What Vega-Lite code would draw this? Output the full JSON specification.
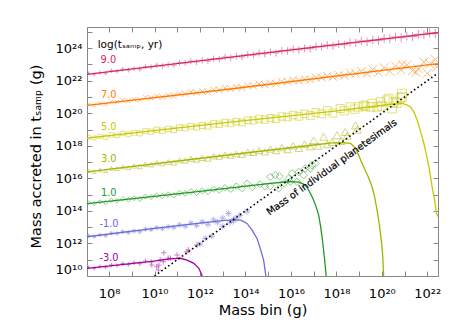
{
  "$schema": "https://vega.github.io/schema/vega-lite/v6.json",
  "width": 351,
  "height": 249,
  "autosize": "none",
  "padding": {"left": 87, "top": 27, "right": 27, "bottom": 56},
  "background": "#ffffff",
  "config": {
    "view": {"stroke": "#888888", "strokeWidth": 1},
    "font": "DejaVu Sans",
    "axis": {
      "grid": false,
      "domainColor": "#888888",
      "tickColor": "#888888",
      "tickSize": -5,
      "labelFont": "DejaVu Sans",
      "labelFontSize": 13,
      "labelColor": "#000000",
      "titleFont": "DejaVu Sans",
      "titleFontSize": 14.5,
      "titleFontWeight": "normal",
      "titleColor": "#000000"
    }
  },
  "datasets": {
    "diag": [
      {"m": 10.0, "M": 10.0},
      {"m": 22.47, "M": 22.47}
    ],
    "curves": [
      {"s": "9.0", "m": 7.03, "M": 22.39}, {"s": "9.0", "m": 15.0, "M": 23.72}, {"s": "9.0", "m": 22.47, "M": 24.95},
      {"s": "7.0", "m": 7.03, "M": 20.49}, {"s": "7.0", "m": 13.33, "M": 21.49}, {"s": "7.0", "m": 22.47, "M": 23.05},
      {"s": "5.0", "m": 7.03, "M": 18.47}, {"s": "5.0", "m": 13.33, "M": 19.45}, {"s": "5.0", "m": 17.73, "M": 20.1}, {"s": "5.0", "m": 19.5, "M": 20.4}, {"s": "5.0", "m": 20.4, "M": 20.55}, {"s": "5.0", "m": 20.89, "M": 20.6}, {"s": "5.0", "m": 21.1, "M": 20.52}, {"s": "5.0", "m": 21.26, "M": 20.39}, {"s": "5.0", "m": 21.4, "M": 20.1}, {"s": "5.0", "m": 21.55, "M": 19.6}, {"s": "5.0", "m": 21.7, "M": 18.9}, {"s": "5.0", "m": 21.85, "M": 18.14}, {"s": "5.0", "m": 21.97, "M": 17.4}, {"s": "5.0", "m": 22.07, "M": 16.7}, {"s": "5.0", "m": 22.15, "M": 16.05}, {"s": "5.0", "m": 22.21, "M": 15.48}, {"s": "5.0", "m": 22.32, "M": 14.66}, {"s": "5.0", "m": 22.4, "M": 13.85}, {"s": "5.0", "m": 22.47, "M": 13.66},
      {"s": "3.0", "m": 7.03, "M": 16.4}, {"s": "3.0", "m": 13.33, "M": 17.45}, {"s": "3.0", "m": 17.0, "M": 18.05}, {"s": "3.0", "m": 17.8, "M": 18.18}, {"s": "3.0", "m": 18.3, "M": 18.2}, {"s": "3.0", "m": 18.62, "M": 18.15}, {"s": "3.0", "m": 18.84, "M": 17.85}, {"s": "3.0", "m": 19.0, "M": 17.35}, {"s": "3.0", "m": 19.2, "M": 16.7}, {"s": "3.0", "m": 19.4, "M": 16.1}, {"s": "3.0", "m": 19.57, "M": 15.48}, {"s": "3.0", "m": 19.69, "M": 14.8}, {"s": "3.0", "m": 19.79, "M": 14.05}, {"s": "3.0", "m": 19.87, "M": 13.35}, {"s": "3.0", "m": 19.94, "M": 12.62}, {"s": "3.0", "m": 20.0, "M": 11.9}, {"s": "3.0", "m": 20.04, "M": 11.18}, {"s": "3.0", "m": 20.08, "M": 10.0},
      {"s": "1.0", "m": 7.03, "M": 14.45}, {"s": "1.0", "m": 12.0, "M": 15.2}, {"s": "1.0", "m": 15.0, "M": 15.68}, {"s": "1.0", "m": 15.6, "M": 15.76}, {"s": "1.0", "m": 16.0, "M": 15.8}, {"s": "1.0", "m": 16.35, "M": 15.77}, {"s": "1.0", "m": 16.55, "M": 15.65}, {"s": "1.0", "m": 16.71, "M": 15.45}, {"s": "1.0", "m": 16.85, "M": 15.1}, {"s": "1.0", "m": 17.0, "M": 14.66}, {"s": "1.0", "m": 17.12, "M": 14.2}, {"s": "1.0", "m": 17.22, "M": 13.74}, {"s": "1.0", "m": 17.3, "M": 13.1}, {"s": "1.0", "m": 17.37, "M": 12.41}, {"s": "1.0", "m": 17.47, "M": 11.18}, {"s": "1.0", "m": 17.55, "M": 10.0},
      {"s": "-1.0", "m": 7.03, "M": 12.41}, {"s": "-1.0", "m": 10.0, "M": 12.93}, {"s": "-1.0", "m": 12.0, "M": 13.25}, {"s": "-1.0", "m": 13.0, "M": 13.4}, {"s": "-1.0", "m": 13.5, "M": 13.45}, {"s": "-1.0", "m": 13.8, "M": 13.43}, {"s": "-1.0", "m": 14.07, "M": 13.23}, {"s": "-1.0", "m": 14.29, "M": 12.82}, {"s": "-1.0", "m": 14.51, "M": 12.31}, {"s": "-1.0", "m": 14.65, "M": 11.7}, {"s": "-1.0", "m": 14.8, "M": 10.98}, {"s": "-1.0", "m": 14.9, "M": 10.0},
      {"s": "-3.0", "m": 7.03, "M": 10.47}, {"s": "-3.0", "m": 9.97, "M": 10.92}, {"s": "-3.0", "m": 10.7, "M": 11.05}, {"s": "-3.0", "m": 11.14, "M": 11.09}, {"s": "-3.0", "m": 11.43, "M": 10.98}, {"s": "-3.0", "m": 11.73, "M": 10.78}, {"s": "-3.0", "m": 11.95, "M": 10.47}, {"s": "-3.0", "m": 12.1, "M": 10.0}
    ],
    "pts": [
      {"s": "9.0", "m": 7.1, "M": 22.45}, {"s": "9.0", "m": 7.35, "M": 22.4}, {"s": "9.0", "m": 7.6, "M": 22.5}, {"s": "9.0", "m": 7.85, "M": 22.46}, {"s": "9.0", "m": 8.1, "M": 22.61}, {"s": "9.0", "m": 8.35, "M": 22.59}, {"s": "9.0", "m": 8.6, "M": 22.7}, {"s": "9.0", "m": 8.85, "M": 22.65}, {"s": "9.0", "m": 9.1, "M": 22.75}, {"s": "9.0", "m": 9.35, "M": 22.71}, {"s": "9.0", "m": 9.6, "M": 22.86}, {"s": "9.0", "m": 9.85, "M": 22.84}, {"s": "9.0", "m": 10.1, "M": 22.95}, {"s": "9.0", "m": 10.35, "M": 22.9}, {"s": "9.0", "m": 10.6, "M": 23.0}, {"s": "9.0", "m": 10.85, "M": 22.96}, {"s": "9.0", "m": 11.1, "M": 23.1}, {"s": "9.0", "m": 11.35, "M": 23.09}, {"s": "9.0", "m": 11.6, "M": 23.2}, {"s": "9.0", "m": 11.85, "M": 23.15}, {"s": "9.0", "m": 12.1, "M": 23.25}, {"s": "9.0", "m": 12.35, "M": 23.21}, {"s": "9.0", "m": 12.6, "M": 23.35}, {"s": "9.0", "m": 12.85, "M": 23.33}, {"s": "9.0", "m": 13.1, "M": 23.45}, {"s": "9.0", "m": 13.35, "M": 23.4}, {"s": "9.0", "m": 13.6, "M": 23.5}, {"s": "9.0", "m": 13.85, "M": 23.46}, {"s": "9.0", "m": 14.1, "M": 23.6}, {"s": "9.0", "m": 14.35, "M": 23.58}, {"s": "9.0", "m": 14.6, "M": 23.7}, {"s": "9.0", "m": 14.85, "M": 23.65}, {"s": "9.0", "m": 15.1, "M": 23.75}, {"s": "9.0", "m": 15.35, "M": 23.71}, {"s": "9.0", "m": 15.6, "M": 23.85}, {"s": "9.0", "m": 15.85, "M": 23.83}, {"s": "9.0", "m": 16.1, "M": 23.94}, {"s": "9.0", "m": 16.35, "M": 23.9}, {"s": "9.0", "m": 16.6, "M": 24.0}, {"s": "9.0", "m": 16.85, "M": 23.96}, {"s": "9.0", "m": 17.1, "M": 24.1}, {"s": "9.0", "m": 17.35, "M": 24.08}, {"s": "9.0", "m": 17.6, "M": 24.19}, {"s": "9.0", "m": 17.85, "M": 24.14}, {"s": "9.0", "m": 18.1, "M": 24.25}, {"s": "9.0", "m": 18.35, "M": 24.21}, {"s": "9.0", "m": 18.6, "M": 24.35}, {"s": "9.0", "m": 18.85, "M": 24.33}, {"s": "9.0", "m": 19.1, "M": 24.44}, {"s": "9.0", "m": 19.35, "M": 24.39}, {"s": "9.0", "m": 19.6, "M": 24.5}, {"s": "9.0", "m": 19.85, "M": 24.46}, {"s": "9.0", "m": 20.1, "M": 24.6}, {"s": "9.0", "m": 20.35, "M": 24.58}, {"s": "9.0", "m": 20.6, "M": 24.69}, {"s": "9.0", "m": 20.85, "M": 24.64}, {"s": "9.0", "m": 21.1, "M": 24.74}, {"s": "9.0", "m": 21.35, "M": 24.71}, {"s": "9.0", "m": 21.6, "M": 24.85}, {"s": "9.0", "m": 21.85, "M": 24.83}, {"s": "9.0", "m": 22.1, "M": 24.94}, {"s": "9.0", "m": 22.35, "M": 24.89},
      {"s": "7.0", "m": 7.1, "M": 20.55}, {"s": "7.0", "m": 7.35, "M": 20.5}, {"s": "7.0", "m": 7.6, "M": 20.6}, {"s": "7.0", "m": 7.85, "M": 20.56}, {"s": "7.0", "m": 8.1, "M": 20.71}, {"s": "7.0", "m": 8.35, "M": 20.69}, {"s": "7.0", "m": 8.6, "M": 20.8}, {"s": "7.0", "m": 8.85, "M": 20.75}, {"s": "7.0", "m": 9.1, "M": 20.85}, {"s": "7.0", "m": 9.35, "M": 20.81}, {"s": "7.0", "m": 9.6, "M": 20.96}, {"s": "7.0", "m": 9.85, "M": 20.94}, {"s": "7.0", "m": 10.1, "M": 21.05}, {"s": "7.0", "m": 10.35, "M": 21.0}, {"s": "7.0", "m": 10.6, "M": 21.1}, {"s": "7.0", "m": 10.85, "M": 21.06}, {"s": "7.0", "m": 11.1, "M": 21.2}, {"s": "7.0", "m": 11.35, "M": 21.19}, {"s": "7.0", "m": 11.6, "M": 21.3}, {"s": "7.0", "m": 11.85, "M": 21.25}, {"s": "7.0", "m": 12.1, "M": 21.35}, {"s": "7.0", "m": 12.35, "M": 21.31}, {"s": "7.0", "m": 12.6, "M": 21.45}, {"s": "7.0", "m": 12.85, "M": 21.43}, {"s": "7.0", "m": 13.1, "M": 21.55}, {"s": "7.0", "m": 13.35, "M": 21.5}, {"s": "7.0", "m": 13.6, "M": 21.6}, {"s": "7.0", "m": 13.85, "M": 21.56}, {"s": "7.0", "m": 14.1, "M": 21.7}, {"s": "7.0", "m": 14.35, "M": 21.68}, {"s": "7.0", "m": 14.6, "M": 21.8}, {"s": "7.0", "m": 14.85, "M": 21.75}, {"s": "7.0", "m": 15.1, "M": 21.85}, {"s": "7.0", "m": 15.35, "M": 21.81}, {"s": "7.0", "m": 15.6, "M": 21.95}, {"s": "7.0", "m": 15.85, "M": 21.93}, {"s": "7.0", "m": 16.1, "M": 22.04}, {"s": "7.0", "m": 16.35, "M": 22.0}, {"s": "7.0", "m": 16.6, "M": 22.1}, {"s": "7.0", "m": 16.85, "M": 22.06}, {"s": "7.0", "m": 17.1, "M": 22.2}, {"s": "7.0", "m": 17.35, "M": 22.18}, {"s": "7.0", "m": 17.6, "M": 22.29}, {"s": "7.0", "m": 17.85, "M": 22.24}, {"s": "7.0", "m": 18.1, "M": 22.35}, {"s": "7.0", "m": 18.35, "M": 22.31}, {"s": "7.0", "m": 18.6, "M": 22.45}, {"s": "7.0", "m": 18.85, "M": 22.43}, {"s": "7.0", "m": 19.1, "M": 22.58}, {"s": "7.0", "m": 19.35, "M": 22.44}, {"s": "7.0", "m": 19.6, "M": 22.68}, {"s": "7.0", "m": 19.85, "M": 22.5}, {"s": "7.0", "m": 20.1, "M": 22.8}, {"s": "7.0", "m": 20.35, "M": 22.58}, {"s": "7.0", "m": 20.6, "M": 22.9}, {"s": "7.0", "m": 20.85, "M": 22.66}, {"s": "7.0", "m": 20.9, "M": 23.0}, {"s": "7.0", "m": 21.1, "M": 22.96}, {"s": "7.0", "m": 21.35, "M": 22.62}, {"s": "7.0", "m": 21.5, "M": 22.53}, {"s": "7.0", "m": 21.6, "M": 22.74}, {"s": "7.0", "m": 21.85, "M": 23.15}, {"s": "7.0", "m": 22.0, "M": 22.46}, {"s": "7.0", "m": 22.1, "M": 23.05}, {"s": "7.0", "m": 22.35, "M": 23.3}, {"s": "7.0", "m": 22.42, "M": 22.85},
      {"s": "5.0", "m": 7.1, "M": 18.53}, {"s": "5.0", "m": 7.35, "M": 18.48}, {"s": "5.0", "m": 7.6, "M": 18.58}, {"s": "5.0", "m": 7.85, "M": 18.53}, {"s": "5.0", "m": 8.1, "M": 18.67}, {"s": "5.0", "m": 8.35, "M": 18.65}, {"s": "5.0", "m": 8.6, "M": 18.76}, {"s": "5.0", "m": 8.85, "M": 18.7}, {"s": "5.0", "m": 9.1, "M": 18.8}, {"s": "5.0", "m": 9.35, "M": 18.76}, {"s": "5.0", "m": 9.6, "M": 18.9}, {"s": "5.0", "m": 9.85, "M": 18.87}, {"s": "5.0", "m": 10.1, "M": 18.98}, {"s": "5.0", "m": 10.35, "M": 18.93}, {"s": "5.0", "m": 10.6, "M": 19.03}, {"s": "5.0", "m": 10.85, "M": 18.98}, {"s": "5.0", "m": 11.1, "M": 19.12}, {"s": "5.0", "m": 11.35, "M": 19.1}, {"s": "5.0", "m": 11.6, "M": 19.21}, {"s": "5.0", "m": 11.85, "M": 19.15}, {"s": "5.0", "m": 12.1, "M": 19.25}, {"s": "5.0", "m": 12.35, "M": 19.21}, {"s": "5.0", "m": 12.6, "M": 19.35}, {"s": "5.0", "m": 12.85, "M": 19.32}, {"s": "5.0", "m": 13.1, "M": 19.43}, {"s": "5.0", "m": 13.35, "M": 19.38}, {"s": "5.0", "m": 13.6, "M": 19.48}, {"s": "5.0", "m": 13.85, "M": 19.43}, {"s": "5.0", "m": 14.1, "M": 19.57}, {"s": "5.0", "m": 14.35, "M": 19.55}, {"s": "5.0", "m": 14.6, "M": 19.66}, {"s": "5.0", "m": 14.85, "M": 19.6}, {"s": "5.0", "m": 15.1, "M": 19.7}, {"s": "5.0", "m": 15.35, "M": 19.66}, {"s": "5.0", "m": 15.6, "M": 19.8}, {"s": "5.0", "m": 15.85, "M": 19.77}, {"s": "5.0", "m": 16.1, "M": 19.89}, {"s": "5.0", "m": 16.35, "M": 19.81}, {"s": "5.0", "m": 16.6, "M": 19.96}, {"s": "5.0", "m": 16.85, "M": 19.86}, {"s": "5.0", "m": 17.1, "M": 20.05}, {"s": "5.0", "m": 17.35, "M": 19.96}, {"s": "5.0", "m": 17.6, "M": 20.16}, {"s": "5.0", "m": 17.85, "M": 20.01}, {"s": "5.0", "m": 18.17, "M": 20.29}, {"s": "5.0", "m": 18.35, "M": 20.15}, {"s": "5.0", "m": 18.61, "M": 20.39}, {"s": "5.0", "m": 18.8, "M": 20.25}, {"s": "5.0", "m": 18.98, "M": 20.39}, {"s": "5.0", "m": 19.2, "M": 20.49}, {"s": "5.0", "m": 19.28, "M": 20.43}, {"s": "5.0", "m": 19.5, "M": 20.39}, {"s": "5.0", "m": 19.57, "M": 20.6}, {"s": "5.0", "m": 19.79, "M": 20.39}, {"s": "5.0", "m": 19.94, "M": 20.69}, {"s": "5.0", "m": 20.0, "M": 20.45}, {"s": "5.0", "m": 20.23, "M": 20.8}, {"s": "5.0", "m": 20.3, "M": 20.9}, {"s": "5.0", "m": 20.45, "M": 20.29}, {"s": "5.0", "m": 20.52, "M": 20.69}, {"s": "5.0", "m": 20.65, "M": 20.62}, {"s": "5.0", "m": 20.82, "M": 20.94}, {"s": "5.0", "m": 20.89, "M": 21.0}, {"s": "5.0", "m": 20.89, "M": 21.2},
      {"s": "3.0", "m": 7.1, "M": 16.46}, {"s": "3.0", "m": 7.35, "M": 16.41}, {"s": "3.0", "m": 7.6, "M": 16.51}, {"s": "3.0", "m": 7.85, "M": 16.47}, {"s": "3.0", "m": 8.1, "M": 16.62}, {"s": "3.0", "m": 8.35, "M": 16.6}, {"s": "3.0", "m": 8.6, "M": 16.71}, {"s": "3.0", "m": 8.85, "M": 16.66}, {"s": "3.0", "m": 9.1, "M": 16.76}, {"s": "3.0", "m": 9.35, "M": 16.72}, {"s": "3.0", "m": 9.6, "M": 16.86}, {"s": "3.0", "m": 9.85, "M": 16.84}, {"s": "3.0", "m": 10.1, "M": 16.96}, {"s": "3.0", "m": 10.35, "M": 16.91}, {"s": "3.0", "m": 10.6, "M": 17.01}, {"s": "3.0", "m": 10.85, "M": 16.97}, {"s": "3.0", "m": 11.1, "M": 17.11}, {"s": "3.0", "m": 11.35, "M": 17.09}, {"s": "3.0", "m": 11.6, "M": 17.2}, {"s": "3.0", "m": 11.85, "M": 17.15}, {"s": "3.0", "m": 12.1, "M": 17.26}, {"s": "3.0", "m": 12.35, "M": 17.22}, {"s": "3.0", "m": 12.6, "M": 17.36}, {"s": "3.0", "m": 12.85, "M": 17.34}, {"s": "3.0", "m": 13.1, "M": 17.45}, {"s": "3.0", "m": 13.35, "M": 17.4}, {"s": "3.0", "m": 13.6, "M": 17.5}, {"s": "3.0", "m": 13.85, "M": 17.46}, {"s": "3.0", "m": 14.1, "M": 17.61}, {"s": "3.0", "m": 14.35, "M": 17.59}, {"s": "3.0", "m": 14.6, "M": 17.71}, {"s": "3.0", "m": 14.85, "M": 17.63}, {"s": "3.0", "m": 15.1, "M": 17.8}, {"s": "3.0", "m": 15.35, "M": 17.7}, {"s": "3.0", "m": 15.6, "M": 17.89}, {"s": "3.0", "m": 15.85, "M": 17.77}, {"s": "3.0", "m": 16.1, "M": 18.0}, {"s": "3.0", "m": 16.35, "M": 17.85}, {"s": "3.0", "m": 16.6, "M": 18.1}, {"s": "3.0", "m": 16.85, "M": 17.95}, {"s": "3.0", "m": 17.0, "M": 18.34}, {"s": "3.0", "m": 17.2, "M": 18.0}, {"s": "3.0", "m": 17.44, "M": 18.55}, {"s": "3.0", "m": 17.6, "M": 18.1}, {"s": "3.0", "m": 17.81, "M": 18.24}, {"s": "3.0", "m": 18.03, "M": 18.65}, {"s": "3.0", "m": 18.2, "M": 18.3}, {"s": "3.0", "m": 18.39, "M": 18.85}, {"s": "3.0", "m": 18.47, "M": 18.6}, {"s": "3.0", "m": 18.84, "M": 19.26}, {"s": "3.0", "m": 18.91, "M": 19.0},
      {"s": "1.0", "m": 7.1, "M": 14.51}, {"s": "1.0", "m": 7.35, "M": 14.46}, {"s": "1.0", "m": 7.6, "M": 14.56}, {"s": "1.0", "m": 7.85, "M": 14.51}, {"s": "1.0", "m": 8.1, "M": 14.65}, {"s": "1.0", "m": 8.35, "M": 14.63}, {"s": "1.0", "m": 8.6, "M": 14.74}, {"s": "1.0", "m": 8.85, "M": 14.68}, {"s": "1.0", "m": 9.1, "M": 14.78}, {"s": "1.0", "m": 9.35, "M": 14.74}, {"s": "1.0", "m": 9.6, "M": 14.88}, {"s": "1.0", "m": 9.85, "M": 14.85}, {"s": "1.0", "m": 10.1, "M": 14.96}, {"s": "1.0", "m": 10.35, "M": 14.91}, {"s": "1.0", "m": 10.6, "M": 15.01}, {"s": "1.0", "m": 10.85, "M": 14.96}, {"s": "1.0", "m": 11.1, "M": 15.1}, {"s": "1.0", "m": 11.35, "M": 15.08}, {"s": "1.0", "m": 11.6, "M": 15.19}, {"s": "1.0", "m": 11.85, "M": 15.13}, {"s": "1.0", "m": 12.1, "M": 15.23}, {"s": "1.0", "m": 12.35, "M": 15.19}, {"s": "1.0", "m": 12.6, "M": 15.34}, {"s": "1.0", "m": 12.85, "M": 15.28}, {"s": "1.0", "m": 13.1, "M": 15.43}, {"s": "1.0", "m": 13.35, "M": 15.33}, {"s": "1.0", "m": 13.6, "M": 15.52}, {"s": "1.0", "m": 13.85, "M": 15.38}, {"s": "1.0", "m": 14.07, "M": 15.69}, {"s": "1.0", "m": 14.3, "M": 15.45}, {"s": "1.0", "m": 14.65, "M": 15.64}, {"s": "1.0", "m": 14.85, "M": 15.5}, {"s": "1.0", "m": 15.09, "M": 15.52}, {"s": "1.0", "m": 15.09, "M": 16.09}, {"s": "1.0", "m": 15.31, "M": 16.2}, {"s": "1.0", "m": 15.46, "M": 15.38}, {"s": "1.0", "m": 15.5, "M": 16.13}, {"s": "1.0", "m": 15.7, "M": 15.7}, {"s": "1.0", "m": 15.9, "M": 15.99}, {"s": "1.0", "m": 15.97, "M": 15.79}, {"s": "1.0", "m": 16.05, "M": 16.3}, {"s": "1.0", "m": 16.27, "M": 15.79}, {"s": "1.0", "m": 16.34, "M": 16.4}, {"s": "1.0", "m": 16.56, "M": 16.2}, {"s": "1.0", "m": 16.63, "M": 16.6}, {"s": "1.0", "m": 16.85, "M": 16.6}, {"s": "1.0", "m": 16.93, "M": 16.81}, {"s": "1.0", "m": 17.07, "M": 16.91},
      {"s": "-1.0", "m": 7.1, "M": 12.47}, {"s": "-1.0", "m": 7.35, "M": 12.42}, {"s": "-1.0", "m": 7.6, "M": 12.52}, {"s": "-1.0", "m": 7.85, "M": 12.48}, {"s": "-1.0", "m": 8.1, "M": 12.63}, {"s": "-1.0", "m": 8.35, "M": 12.61}, {"s": "-1.0", "m": 8.6, "M": 12.72}, {"s": "-1.0", "m": 8.85, "M": 12.67}, {"s": "-1.0", "m": 9.1, "M": 12.77}, {"s": "-1.0", "m": 9.35, "M": 12.73}, {"s": "-1.0", "m": 9.6, "M": 12.87}, {"s": "-1.0", "m": 9.85, "M": 12.85}, {"s": "-1.0", "m": 10.1, "M": 12.97}, {"s": "-1.0", "m": 10.35, "M": 12.91}, {"s": "-1.0", "m": 10.6, "M": 13.02}, {"s": "-1.0", "m": 10.85, "M": 12.98}, {"s": "-1.0", "m": 11.1, "M": 13.14}, {"s": "-1.0", "m": 11.35, "M": 13.06}, {"s": "-1.0", "m": 11.6, "M": 13.25}, {"s": "-1.0", "m": 11.85, "M": 13.1}, {"s": "-1.0", "m": 12.0, "M": 11.95}, {"s": "-1.0", "m": 12.1, "M": 13.33}, {"s": "-1.0", "m": 12.23, "M": 12.31}, {"s": "-1.0", "m": 12.35, "M": 13.18}, {"s": "-1.0", "m": 12.52, "M": 12.45}, {"s": "-1.0", "m": 12.6, "M": 13.45}, {"s": "-1.0", "m": 12.76, "M": 13.3}, {"s": "-1.0", "m": 13.0, "M": 13.05}, {"s": "-1.0", "m": 13.0, "M": 13.56}, {"s": "-1.0", "m": 13.25, "M": 13.85}, {"s": "-1.0", "m": 13.33, "M": 13.3}, {"s": "-1.0", "m": 13.47, "M": 13.4}, {"s": "-1.0", "m": 13.55, "M": 13.55}, {"s": "-1.0", "m": 13.75, "M": 13.72}, {"s": "-1.0", "m": 14.07, "M": 13.98},
      {"s": "-3.0", "m": 7.1, "M": 10.53}, {"s": "-3.0", "m": 7.35, "M": 10.47}, {"s": "-3.0", "m": 7.6, "M": 10.58}, {"s": "-3.0", "m": 7.85, "M": 10.54}, {"s": "-3.0", "m": 8.1, "M": 10.68}, {"s": "-3.0", "m": 8.35, "M": 10.65}, {"s": "-3.0", "m": 8.6, "M": 10.76}, {"s": "-3.0", "m": 8.85, "M": 10.71}, {"s": "-3.0", "m": 9.1, "M": 10.81}, {"s": "-3.0", "m": 9.35, "M": 10.76}, {"s": "-3.0", "m": 9.6, "M": 10.92}, {"s": "-3.0", "m": 9.85, "M": 10.86}, {"s": "-3.0", "m": 9.88, "M": 10.67}, {"s": "-3.0", "m": 10.1, "M": 10.57}, {"s": "-3.0", "m": 10.17, "M": 10.37}, {"s": "-3.0", "m": 10.19, "M": 10.67}, {"s": "-3.0", "m": 10.25, "M": 11.0}, {"s": "-3.0", "m": 10.39, "M": 10.88}, {"s": "-3.0", "m": 10.41, "M": 11.43}, {"s": "-3.0", "m": 10.6, "M": 11.1}, {"s": "-3.0", "m": 10.7, "M": 11.09}, {"s": "-3.0", "m": 10.99, "M": 11.29}, {"s": "-3.0", "m": 11.43, "M": 11.49}, {"s": "-3.0", "m": 11.49, "M": 11.6}, {"s": "-3.0", "m": 11.87, "M": 11.9}
    ],
    "labels": [
      {"s": "9.0", "t": "9.0", "m": 7.97, "M": 23.25},
      {"s": "7.0", "t": "7.0", "m": 7.99, "M": 21.15},
      {"s": "5.0", "t": "5.0", "m": 7.99, "M": 19.16},
      {"s": "3.0", "t": "3.0", "m": 7.99, "M": 17.18},
      {"s": "1.0", "t": "1.0", "m": 7.99, "M": 15.13},
      {"s": "-1.0", "t": "-1.0", "m": 8.0, "M": 13.17},
      {"s": "-3.0", "t": "-3.0", "m": 8.0, "M": 11.12}
    ],
    "notes": [
      {"t": "log(tₛₐₘₚ, yr)", "m": 7.5, "M": 24.17}
    ],
    "anno": [
      {"t": "Mass of individual planetesimals", "m": 17.8, "M": 16.68}
    ]
  },
  "layer": [
    {
      "data": {"name": "pts"},
      "mark": {"type": "point", "filled": false, "strokeWidth": 1, "opacity": 0.5, "clip": true},
      "encoding": {
        "x": {"field": "m", "type": "quantitative", "axis": null, "scale": {"domain": [7.03, 22.47], "nice": false, "zero": false}},
        "y": {"field": "M", "type": "quantitative", "axis": null, "scale": {"domain": [10, 25.3], "nice": false, "zero": false}},
        "color": {"field": "s", "type": "nominal", "legend": null, "scale": {"domain": ["9.0", "7.0", "5.0", "3.0", "1.0", "-1.0", "-3.0"], "range": ["#d4246a", "#ff7a00", "#c8c800", "#a4b400", "#1f9a1f", "#6b6bdc", "#a3009f"]}},
        "shape": {"field": "s", "type": "nominal", "legend": null, "scale": {"domain": ["9.0", "7.0", "5.0", "3.0", "1.0", "-1.0", "-3.0"], "range": ["M-1,0L1,0M0,-1L0,1", "M-1,-1L1,1M-1,1L1,-1", "square", "triangle-up", "diamond", "M-1,0L1,0M0,-1L0,1M-0.7,-0.7L0.7,0.7M-0.7,0.7L0.7,-0.7", "M-1,0L1,0M0,-1L0,1"]}},
        "size": {"field": "m", "type": "quantitative", "legend": null, "scale": {"domain": [7, 22.5], "range": [14, 85], "zero": false}}
      }
    },
    {
      "data": {"name": "curves"},
      "mark": {"type": "line", "strokeWidth": 1.3, "clip": true},
      "encoding": {
        "x": {"field": "m", "type": "quantitative", "title": "Mass bin (g)",
          "axis": {"orient": "bottom", "values": [8, 9, 10, 11, 12, 13, 14, 15, 16, 17, 18, 19, 20, 21, 22], "labelPadding": 16, "labelFlush": false,
            "labelExpr": "datum.value % 2 === 0 ? '10' + (datum.value >= 10 ? substring('⁰¹²³⁴⁵⁶⁷⁸⁹', floor(datum.value / 10), floor(datum.value / 10) + 1) : '') + substring('⁰¹²³⁴⁵⁶⁷⁸⁹', datum.value % 10, datum.value % 10 + 1) : ''",
            "titleY": 38, "titleBaseline": "alphabetic"}},
        "y": {"field": "M", "type": "quantitative", "title": "Mass accreted in tₛₐₘₚ (g)",
          "axis": {"orient": "left", "values": [10, 11, 12, 13, 14, 15, 16, 17, 18, 19, 20, 21, 22, 23, 24, 25], "labelPadding": 10, "labelFlush": true,
            "labelExpr": "datum.value % 2 === 0 ? '10' + substring('⁰¹²³⁴⁵⁶⁷⁸⁹', floor(datum.value / 10), floor(datum.value / 10) + 1) + substring('⁰¹²³⁴⁵⁶⁷⁸⁹', datum.value % 10, datum.value % 10 + 1) : ''",
            "titleX": -47, "titleY": 129, "titleBaseline": "alphabetic", "titleAngle": -90}},
        "color": {"field": "s", "type": "nominal", "legend": null},
        "detail": {"field": "s", "type": "nominal"}
      }
    },
    {
      "data": {"name": "diag"},
      "mark": {"type": "line", "color": "#000000", "strokeWidth": 1.6, "strokeDash": [1.6, 2.6], "clip": true},
      "encoding": {
        "x": {"field": "m", "type": "quantitative", "axis": {"orient": "top", "values": [8, 9, 10, 11, 12, 13, 14, 15, 16, 17, 18, 19, 20, 21, 22], "labels": false, "domain": false, "title": null}},
        "y": {"field": "M", "type": "quantitative", "axis": {"orient": "right", "values": [10, 11, 12, 13, 14, 15, 16, 17, 18, 19, 20, 21, 22, 23, 24, 25], "labels": false, "domain": false, "title": null}}
      }
    },
    {
      "data": {"name": "labels"},
      "mark": {"type": "text", "fontSize": 9.8, "align": "center", "baseline": "middle"},
      "encoding": {
        "x": {"field": "m", "type": "quantitative", "axis": null},
        "y": {"field": "M", "type": "quantitative", "axis": null},
        "text": {"field": "t"},
        "color": {"field": "s", "type": "nominal", "legend": null}
      }
    },
    {
      "data": {"name": "notes"},
      "mark": {"type": "text", "fontSize": 10.5, "align": "left", "baseline": "middle", "color": "#000000"},
      "encoding": {
        "x": {"field": "m", "type": "quantitative", "axis": null},
        "y": {"field": "M", "type": "quantitative", "axis": null},
        "text": {"field": "t"}
      }
    },
    {
      "data": {"name": "anno"},
      "mark": {"type": "text", "fontSize": 9.7, "align": "center", "baseline": "middle", "angle": -35.6, "color": "#000000", "stroke": "#000000", "strokeWidth": 0.2},
      "encoding": {
        "x": {"field": "m", "type": "quantitative", "axis": null},
        "y": {"field": "M", "type": "quantitative", "axis": null},
        "text": {"field": "t"}
      }
    }
  ],
  "resolve": {"axis": {"x": "independent", "y": "independent"}}
}
